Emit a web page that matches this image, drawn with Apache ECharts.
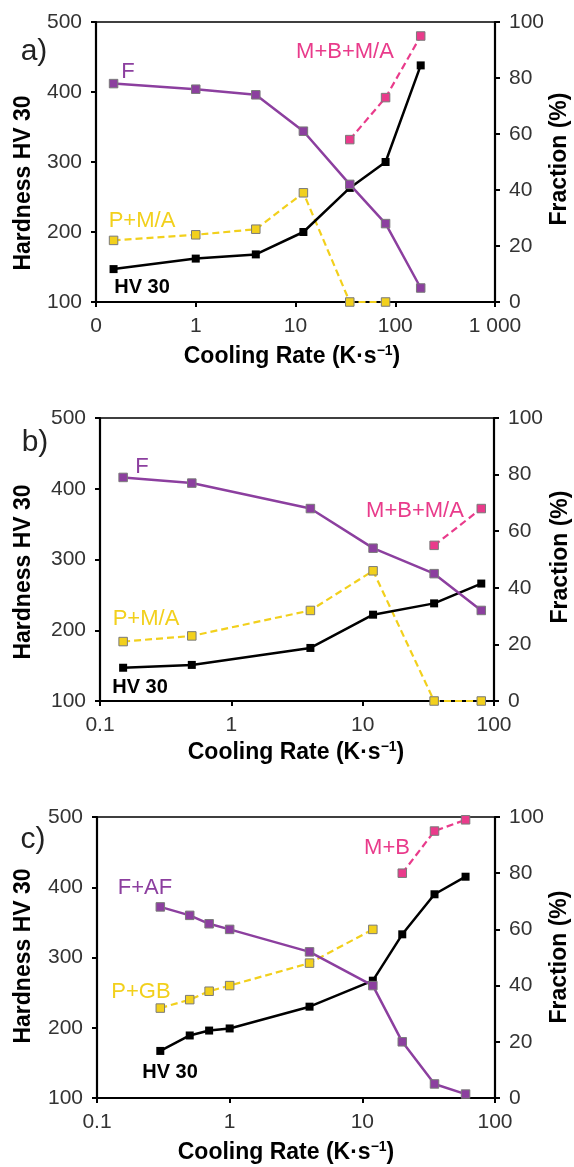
<!DOCTYPE html>
<html>
<head>
<meta charset="utf-8">
<script src="https://cdn.jsdelivr.net/npm/echarts@6/dist/echarts.min.js"></script>
<style>
html,body{margin:0;padding:0;background:#fff;}
#c{width:574px;height:1167px;}
</style>
</head>
<body>
<div id="c"></div>
<script>
// ---------- data ----------
// panel a
const xA = [0.15, 1, 4, 12, 35, 80, 180];
const hvA = [147, 162, 168, 200, 263, 300, 438];
const fA = [78, 76, 74, 61, 42, 28, 5];
const xPmaA = [0.15, 1, 4, 12, 35, 80];
const pmaA = [22, 24, 26, 39, 0, 0];
const xMbmaA = [35, 80, 180];
const mbmaA = [58, 73, 95];
// panel b
const xB = [0.15, 0.5, 4, 12, 35, 80];
const hvB = [147, 151, 175, 222, 238, 266];
const fB = [79, 77, 68, 54, 45, 32];
const xPmaB = [0.15, 0.5, 4, 12, 35, 80];
const pmaB = [21, 23, 32, 46, 0, 0];
const xMbmaB = [35, 80];
const mbmaB = [55, 68];
// panel c
const xC = [0.3, 0.5, 0.7, 1, 4, 12, 20, 35, 60];
const hvC = [167, 189, 196, 199, 230, 267, 333, 390, 415];
const fafC = [68, 65, 62, 60, 52, 40, 20, 5, 1.4];
const xPgbC = [0.3, 0.5, 0.7, 1, 4, 12];
const pgbC = [32, 35, 38, 40, 48, 60];
const xMbC = [20, 35, 60];
const mbC = [80, 95, 99];
// tick labels
const xTicksA = {0.1: '0', 1: '1', 10: '10', 100: '100', 1000: '1 000'};
const xTicksBC = {0.1: '0.1', 1: '1', 10: '10', 100: '100'};

// ---------- styles ----------
const FONT = "'Liberation Sans', Arial, sans-serif";
const BLACK = '#000000', PURPLE = '#8c3f9f', YELLOW = '#f2d01c', PINK = '#e93b8b';
const MARK_BORDER = '#7a7a7a';

function pairs(xs, ys) { return xs.map((x, i) => [x, ys[i]]); }

const grids = [
  {left: 96, top: 22, width: 399, height: 280},
  {left: 100, top: 418, width: 394, height: 283},
  {left: 97, top: 817, width: 398, height: 281}
];

const xAxes = [], yAxes = [], series = [];
const panelData = [
  {xmax: 1000, ticks: xTicksA,
   hv: pairs(xA, hvA), f: pairs(xA, fA), p: pairs(xPmaA, pmaA), m: pairs(xMbmaA, mbmaA)},
  {xmax: 100, ticks: xTicksBC,
   hv: pairs(xB, hvB), f: pairs(xB, fB), p: pairs(xPmaB, pmaB), m: pairs(xMbmaB, mbmaB)},
  {xmax: 100, ticks: xTicksBC,
   hv: pairs(xC, hvC), f: pairs(xC, fafC), p: pairs(xPgbC, pgbC), m: pairs(xMbC, mbC)}
];

const axisLine = {show: true, onZero: false, lineStyle: {color: '#000', width: 2.2}};
const axisTick = {show: true, inside: false, length: 5, lineStyle: {color: '#000', width: 2}};
const labelStyle = {color: '#333333', fontSize: 21, fontFamily: FONT};

panelData.forEach((p, i) => {
  grids[i].show = true;
  grids[i].borderColor = '#000';
  grids[i].borderWidth = 1.5;
  xAxes.push({
    type: 'log', logBase: 10, gridIndex: i, min: 0.1, max: p.xmax,
    axisLine, axisTick, splitLine: {show: false}, minorTick: {show: false},
    axisLabel: Object.assign({margin: 14, formatter: v => {
      const k = Object.keys(p.ticks).find(t => Math.abs(Math.log10(+t) - Math.log10(v)) < 1e-6);
      return k !== undefined ? p.ticks[k] : '';
    }}, labelStyle)
  });
  yAxes.push({
    type: 'value', gridIndex: i, position: 'left', min: 100, max: 500, interval: 100,
    axisLine, axisTick, splitLine: {show: false},
    axisLabel: Object.assign({margin: 14}, labelStyle)
  });
  yAxes.push({
    type: 'value', gridIndex: i, position: 'right', min: 0, max: 100, interval: 20,
    axisLine, axisTick, splitLine: {show: false},
    axisLabel: Object.assign({margin: 14}, labelStyle)
  });
  const yl = 2 * i, yr = 2 * i + 1;
  series.push({
    type: 'line', xAxisIndex: i, yAxisIndex: yr, data: p.p, z: 2,
    symbol: 'rect', symbolSize: 8.5,
    lineStyle: {color: YELLOW, width: 2.2, type: [7, 4]},
    itemStyle: {color: YELLOW, borderColor: MARK_BORDER, borderWidth: 1},
    animation: false
  });
  series.push({
    type: 'line', xAxisIndex: i, yAxisIndex: yr, data: p.m, z: 3,
    symbol: 'rect', symbolSize: 8.5,
    lineStyle: {color: PINK, width: 2.2, type: [7, 4]},
    itemStyle: {color: PINK, borderColor: MARK_BORDER, borderWidth: 1},
    animation: false
  });
  series.push({
    type: 'line', xAxisIndex: i, yAxisIndex: yl, data: p.hv, z: 4,
    symbol: 'rect', symbolSize: 8,
    lineStyle: {color: BLACK, width: 2.5},
    itemStyle: {color: BLACK},
    animation: false
  });
  series.push({
    type: 'line', xAxisIndex: i, yAxisIndex: yr, data: p.f, z: 5,
    symbol: 'rect', symbolSize: 8.5,
    lineStyle: {color: PURPLE, width: 2.5},
    itemStyle: {color: PURPLE, borderColor: MARK_BORDER, borderWidth: 1},
    animation: false
  });
});

// ---------- texts ----------
function txt(text, x, y, opts) {
  return Object.assign({
    type: 'text', x, y, z: 100,
    style: Object.assign({text, fontFamily: FONT, fontSize: 21, fill: '#000',
      align: 'center', verticalAlign: 'middle'}, opts && opts.style)
  }, opts && opts.el);
}
function vtitle(text, x, y) {
  return txt(text, x, y, {el: {rotation: Math.PI / 2}, style: {fontSize: 23, fontWeight: 'bold'}});
}
function xtitle(x, y) {
  return {
    type: 'text', x, y, z: 100,
    style: {
      text: '{t|Cooling Rate (K·s}{s|−1}{t|)}',
      fontFamily: FONT, align: 'center', verticalAlign: 'middle',
      rich: {
        t: {fontSize: 23, fontWeight: 'bold', fontFamily: FONT, fill: '#000', lineHeight: 26},
        s: {fontSize: 14, fontWeight: 'bold', fontFamily: FONT, fill: '#000', lineHeight: 26, verticalAlign: 'top', padding: [0, 0, 8, 0]}
      }
    }
  };
}
const sLab = (c) => ({style: {fill: c, fontSize: 22}});
const graphic = [
  // panel a
  txt('a)', 34, 52, {style: {fontSize: 30, fill: '#222'}}),
  vtitle('Hardness HV 30', 24, 183),
  vtitle('Fraction (%)', 560, 159),
  xtitle(292, 357),
  txt('F', 128, 72, sLab(PURPLE)),
  txt('M+B+M/A', 345, 52, sLab(PINK)),
  txt('P+M/A', 142, 221, sLab(YELLOW)),
  txt('HV 30', 142, 287, {style: {fontWeight: 'bold', fontSize: 20}}),
  // panel b
  txt('b)', 35, 443, {style: {fontSize: 30, fill: '#222'}}),
  vtitle('Hardness HV 30', 24, 572),
  vtitle('Fraction (%)', 561, 557),
  xtitle(296, 753),
  txt('F', 142, 467, sLab(PURPLE)),
  txt('M+B+M/A', 415, 511, sLab(PINK)),
  txt('P+M/A', 146, 619, sLab(YELLOW)),
  txt('HV 30', 140, 687, {style: {fontWeight: 'bold', fontSize: 20}}),
  // panel c
  vtitle('Hardness HV 30', 24, 956),
  txt('c)', 33, 840, {style: {fontSize: 30, fill: '#222'}}),
  vtitle('Fraction (%)', 560, 957),
  xtitle(286, 1153),
  txt('M+B', 387, 848, sLab(PINK)),
  txt('F+AF', 145, 888, sLab(PURPLE)),
  txt('P+GB', 141, 992, sLab(YELLOW)),
  txt('HV 30', 170, 1072, {style: {fontWeight: 'bold', fontSize: 20}})
];

const chart = echarts.init(document.getElementById('c'), null, {renderer: 'canvas'});
chart.setOption({
  animation: false,
  backgroundColor: '#fff',
  grid: grids,
  xAxis: xAxes,
  yAxis: yAxes,
  series,
  graphic
});
</script>
</body>
</html>
